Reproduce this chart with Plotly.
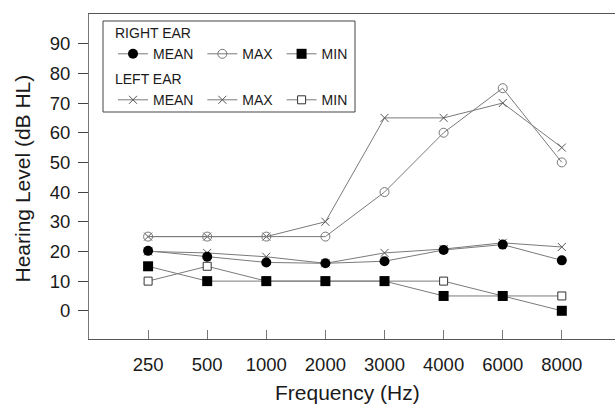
import plotly.graph_objects as go

freqs = ["250", "500", "1000", "2000", "3000", "4000", "6000", "8000"]
right_mean = [20.2, 18.2, 16.3, 16, 16.7, 20.5, 22.3, 17]
right_max = [25, 25, 25, 25, 40, 60, 75, 50]
right_min = [15, 10, 10, 10, 10, 5, 5, 0]
left_mean = [20, 19.5, 18.2, 16, 19.5, 20.8, 22.9, 21.5]
left_max = [25, 25, 25, 30, 65, 65, 70, 55]
left_min = [10, 15, 10, 10, 10, 10, 5, 5]

LINE = "#7a7a7a"
FONT = "Liberation Sans, Arial, sans-serif"

fig = go.Figure()

def add(y, name, symbol, size, fill, mline, mlw, legend):
    fig.add_trace(go.Scatter(
        x=freqs, y=y, name=name + "&nbsp;", mode="lines+markers",
        line=dict(color=LINE, width=1),
        marker=dict(symbol=symbol, size=size, color=fill,
                    line=dict(color=mline, width=mlw)),
        legend=legend,
    ))
    fig.data[-1].legendrank = {"MEAN": 1, "MAX": 2, "MIN": 3}[name]

add(left_max, "MAX", "x-thin-open", 8, "#555555", "#555555", 1, "legend2")
add(left_mean, "MEAN", "x-thin-open", 8, "#555555", "#555555", 1, "legend2")
add(right_max, "MAX", "circle-open", 9, "#777777", "#777777", 1, "legend")
add(left_min, "MIN", "square", 8, "white", "#333333", 1, "legend2")
add(right_min, "MIN", "square", 10, "black", "black", 0, "legend")
add(right_mean, "MEAN", "circle", 10, "black", "black", 0, "legend")

W, H = 615, 405
L, R, T, B = 89, 0, 14, 66
pw, ph = W - L - R, H - T - B

def px(x):
    return (x - L) / pw

def py(y):
    return (H - B - y) / ph

fig.update_layout(
    width=W, height=H,
    margin=dict(l=L, r=R, t=T, b=B),
    paper_bgcolor="white", plot_bgcolor="white",
    font=dict(family=FONT, color="#1a1a1a", size=14),
    showlegend=True,
    legend=dict(orientation="h", x=px(113), y=py(20), xanchor="left", yanchor="top",
                title=dict(text="RIGHT EAR", side="top", font=dict(size=14)),
                bgcolor="rgba(0,0,0,0)", font=dict(size=14), traceorder="normal"),
    legend2=dict(orientation="h", x=px(113), y=py(66), xanchor="left", yanchor="top",
                 title=dict(text="LEFT EAR", side="top", font=dict(size=14)),
                 bgcolor="rgba(0,0,0,0)", font=dict(size=14), traceorder="normal"),
    shapes=[dict(type="rect", xref="paper", yref="paper",
                 x0=px(103), x1=px(355), y0=py(112), y1=py(21),
                 line=dict(color="#444444", width=1))],
    annotations=[
        dict(text="Hearing Level (dB HL)", xref="paper", yref="paper",
             x=0, y=py(178.5), xshift=22 - L, textangle=-90,
             showarrow=False, font=dict(size=21, color="#1a1a1a"),
             xanchor="center", yanchor="middle"),
        dict(text="Frequency (Hz)", xref="paper", yref="paper",
             x=px(347), y=0, yshift=-(392 - (H - B)), showarrow=False,
             font=dict(size=21, color="#1a1a1a"), xanchor="center", yanchor="middle"),
    ],
)

fig.update_xaxes(
    type="category", range=[-1, 7.9],
    showline=True, linecolor="#555555", linewidth=1, mirror=True,
    ticks="inside", ticklen=9, tickcolor="#777777",
    tickfont=dict(size=18.5, color="#1a1a1a"),
    ticklabelstandoff=9, showgrid=False, zeroline=False,
)
fig.update_yaxes(
    range=[-9.5, 100], tickvals=list(range(0, 100, 10)),
    showline=True, linecolor="#777777", linewidth=1,
    ticks="outside", ticklen=10, tickcolor="#444444",
    tickfont=dict(size=18.5, color="#1a1a1a"),
    ticklabelstandoff=4, showgrid=False, zeroline=False,
)

fig.write_html("out.html", config={"displayModeBar": False},
               post_script="document.body.style.margin='0';document.body.style.overflow='hidden';")
